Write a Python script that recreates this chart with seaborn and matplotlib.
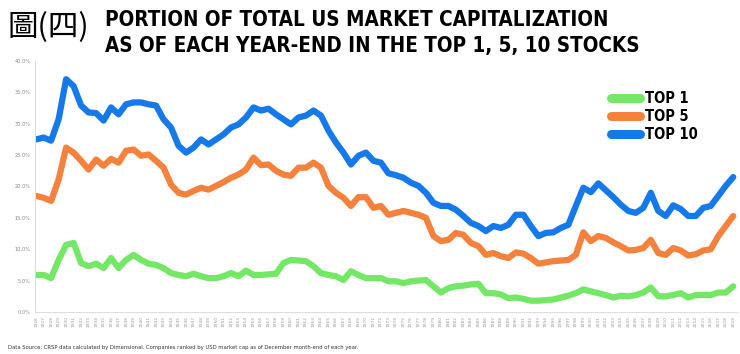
import numpy as np
import pandas as pd
import matplotlib
matplotlib.use("Agg")
import matplotlib.pyplot as plt
import seaborn as sns

years = list(range(1926, 2020))

top1 = [5.9, 5.9, 5.4, 8.3, 10.7, 11.0, 7.8, 7.3, 7.7, 7.0,
        8.6, 7.0, 8.3, 9.1, 8.3, 7.7, 7.5, 7.0, 6.2, 5.9,
        5.7, 6.1, 5.7, 5.4, 5.4, 5.7, 6.2, 5.7, 6.6, 5.9,
        5.9, 6.0, 6.1, 7.8, 8.3, 8.2, 8.1, 7.3, 6.2, 5.9,
        5.7, 5.1, 6.5, 5.9, 5.4, 5.4, 5.4, 4.9, 4.9, 4.6,
        4.9, 5.0, 5.1, 4.1, 3.1, 3.8, 4.1, 4.2, 4.4, 4.5,
        3.0, 3.0, 2.8, 2.2, 2.3, 2.1, 1.8, 1.8, 1.9, 2.0,
        2.3, 2.6, 3.0, 3.6, 3.3, 3.0, 2.7, 2.3, 2.6, 2.5,
        2.7, 3.1, 3.9, 2.5, 2.5, 2.7, 3.0, 2.3, 2.7, 2.7,
        2.7, 3.1, 3.1, 4.1]

top5 = [18.5, 18.2, 17.7, 21.1, 26.2, 25.4, 24.1, 22.7, 24.3, 23.3,
        24.4, 23.8, 25.7, 25.9, 24.9, 25.1, 24.1, 23.0, 20.3, 19.0,
        18.7, 19.3, 19.8, 19.5, 20.1, 20.7, 21.4, 21.9, 22.7, 24.6,
        23.4, 23.5, 22.5, 21.9, 21.7, 23.0, 23.0, 23.8, 23.0, 20.1,
        19.0, 18.2, 16.9, 18.3, 18.3, 16.6, 16.9, 15.5, 15.8, 16.1,
        15.8, 15.5, 15.0, 12.1, 11.3, 11.5, 12.6, 12.3, 11.0, 10.5,
        9.1, 9.4, 8.9, 8.6, 9.5, 9.3, 8.6, 7.7, 7.9, 8.1,
        8.2, 8.3, 9.1, 12.7, 11.3, 12.1, 11.8, 11.1, 10.5, 9.8,
        9.9, 10.2, 11.5, 9.4, 9.1, 10.2, 9.8, 9.0, 9.2, 9.8,
        10.0, 12.1, 13.7, 15.3]

top10 = [27.5, 27.8, 27.3, 30.7, 37.1, 36.0, 32.9, 31.8, 31.7, 30.5,
         32.6, 31.5, 33.1, 33.4, 33.4, 33.1, 32.9, 30.7, 29.4, 26.5,
         25.4, 26.2, 27.5, 26.7, 27.5, 28.3, 29.4, 29.9, 31.0, 32.6,
         32.1, 32.4, 31.5, 30.7, 29.9, 31.0, 31.3, 32.1, 31.3, 28.9,
         27.0, 25.4, 23.5, 24.9, 25.4, 24.1, 23.8, 22.1, 21.8, 21.4,
         20.6, 20.1, 19.0, 17.4, 16.9, 16.9, 16.3, 15.3, 14.2, 13.7,
         12.9, 13.7, 13.4, 13.9, 15.5, 15.5, 13.7, 12.1, 12.6, 12.7,
         13.4, 13.9, 16.9, 19.8, 19.1, 20.5, 19.4, 18.3, 17.1, 16.1,
         15.8, 16.6, 19.0, 16.1, 15.3, 17.0, 16.4, 15.3, 15.3, 16.6,
         16.9, 18.5, 20.1, 21.5]

series_names = ["TOP 1", "TOP 5", "TOP 10"]
colors = ["#74E866", "#F5823C", "#1579E9"]

df = pd.concat([
    pd.DataFrame({"year": years, "share": top1, "series": series_names[0]}),
    pd.DataFrame({"year": years, "share": top5, "series": series_names[1]}),
    pd.DataFrame({"year": years, "share": top10, "series": series_names[2]}),
], ignore_index=True)

sns.set_style("white")
plt.rcParams["font.family"] = ["DejaVu Sans"]

fig = plt.figure(figsize=(7.4, 3.54), dpi=100)
ax = fig.add_axes([35 / 740, 42 / 354, 702 / 740, 251 / 354])

sns.lineplot(data=df, x="year", y="share", hue="series", hue_order=series_names,
             palette=colors, linewidth=4.5, ax=ax, legend=True,
             solid_capstyle="round", solid_joinstyle="round")

ax.set_xlim(1925.85, 2019.5)
ax.set_ylim(0, 40)
ax.set_yticks(np.arange(0, 41, 5))
ax.set_yticklabels([f"{v:.1f}%" for v in np.arange(0, 41, 5)], fontsize=3.6, color="#888888")
ax.set_xticks(years)
ax.set_xticklabels([str(y) for y in years], rotation=90, fontsize=3.2, color="#999999")
ax.tick_params(axis="both", length=0, pad=3)
ax.set_xlabel("")
ax.set_ylabel("")
for s in ["top", "right"]:
    ax.spines[s].set_visible(False)
for s in ["left", "bottom"]:
    ax.spines[s].set_color("#dddddd")
    ax.spines[s].set_linewidth(0.8)

title_font = {"family": "DejaVu Sans", "weight": "heavy", "stretch": "condensed"}

handles, labels = ax.get_legend_handles_labels()
for h in handles:
    h.set_linewidth(6.5)
    h.set_solid_capstyle("round")
leg = ax.legend(handles, labels, loc="upper left", bbox_to_anchor=(598 / 740, 1 - 78 / 354),
                bbox_transform=fig.transFigure, frameon=False, handlelength=2.0,
                handletextpad=0.35, labelspacing=0.2,
                prop=dict(title_font, size=10.5))
for t in leg.get_texts():
    t.set_color("black")

fig.text(8 / 740, 1 - 28 / 354, "圖(四)", fontsize=22, color="black",
         family=["Noto Sans CJK TC", "DejaVu Sans"], va="center", ha="left")
fig.text(105 / 740, 1 - 20 / 354, "PORTION OF TOTAL US MARKET CAPITALIZATION",
         fontsize=14.8, color="black", va="center", ha="left", **title_font)
fig.text(105 / 740, 1 - 46 / 354, "AS OF EACH YEAR-END IN THE TOP 1, 5, 10 STOCKS",
         fontsize=14.8, color="black", va="center", ha="left", **title_font)

fig.text(8 / 740, 1 - 347 / 354,
         "Data Source: CRSP data calculated by Dimensional. Companies ranked by USD market cap as of December month-end of each year.",
         fontsize=3.8, color="#333333", va="center", ha="left")

fig.savefig("out.png", dpi=100)
